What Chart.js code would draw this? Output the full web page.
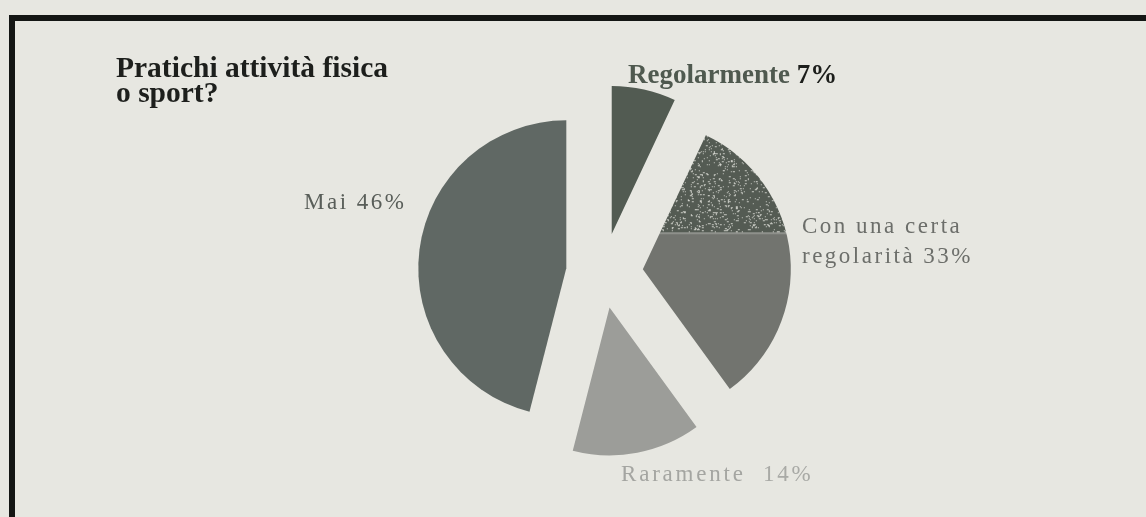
<!DOCTYPE html>
<html lang="it">
<head>
<meta charset="utf-8">
<title>Pratichi attività fisica o sport?</title>
<script src="https://cdn.jsdelivr.net/npm/chart.js@4.4.1/dist/chart.umd.min.js"></script>
<style>
  html, body { margin: 0; padding: 0; background: #e7e7e1; }
  #wrap { position: relative; width: 1146px; height: 517px; overflow: hidden; }
  #frame {
    position: absolute; left: 9px; top: 15px; width: 1160px; height: 496px;
    border-top: 6px solid #141614; border-left: 6px solid #141614;
    border-bottom: 1px solid #d8d8d2;
  }
  #chart { position: absolute; left: 0; top: 0; }
</style>
</head>
<body>
<div id="wrap">
  <div id="frame"></div>
  <canvas id="chart" width="1146" height="517"></canvas>
</div>
<script>
// dati
const titleLines = ['Pratichi attività fisica', 'o sport?'];
const categories = ['Regolarmente', 'Con una certa regolarità', 'Raramente', 'Mai'];
const categoryLines = [['Regolarmente'], ['Con una certa', 'regolarità'], ['Raramente '], ['Mai']];
const values = [7, 33, 14, 46];

// stile
const sliceColors = ['#525b52', null, '#9c9d99', '#606864'];
const sliceShift = [40, 40, 35, 37];   // px di "esplosione" lungo la bisettrice
const labelStyles = [
  { x: 628, y: 83, lh: 30, font: 'bold 27px "Liberation Serif"', spacing: '0px', name: '#4f594f', value: '#1c1e1b' },
  { x: 802, y: 233, lh: 30, font: '23px "Liberation Serif"', spacing: '2.5px', name: '#6c6e6a', value: '#6c6e6a' },
  { x: 621, y: 481, lh: 30, font: '23px "Liberation Serif"', spacing: '2.8px', name: '#a4a5a1', value: '#a9aaa6' },
  { x: 304, y: 209, lh: 30, font: '23px "Liberation Serif"', spacing: '2.5px', name: '#595e59', value: '#595e59' }
];

// trama della fetta "Con una certa regolarità": parte alta scura puntinata, parte bassa grigia
function makeConPattern(ctx) {
  const c = document.createElement('canvas');
  c.width = 1146; c.height = 517;
  const p = c.getContext('2d');
  p.fillStyle = '#72746f';
  p.fillRect(0, 0, c.width, c.height);
  p.fillStyle = '#545b53';
  p.fillRect(0, 0, c.width, 237);
  let seed = 12345;
  const next = () => (seed = (seed * 1103515245 + 12345) % 2147483648) / 2147483648;
  p.fillStyle = 'rgba(228,229,222,0.8)';
  for (let i = 0; i < 2600; i++) {
    const x = 600 + next() * 200;
    const y = 85 + next() * 152;
    p.fillRect(Math.round(x), Math.round(y), next() < 0.3 ? 2 : 1, 1);
  }
  p.fillStyle = '#8e908b';
  p.fillRect(0, 236, c.width, 2);
  return ctx.createPattern(c, 'no-repeat');
}

const ctx = document.getElementById('chart').getContext('2d');
const conPattern = makeConPattern(ctx);

// disegna ogni fetta spostata lungo la propria bisettrice, raggio invariato
const explodePlugin = {
  id: 'esplodi',
  beforeDatasetDraw(chart, args) {
    const c = chart.ctx;
    args.meta.data.forEach((arc, i) => {
      const mid = (arc.startAngle + arc.endAngle) / 2;
      c.save();
      c.translate(Math.cos(mid) * sliceShift[i], Math.sin(mid) * sliceShift[i]);
      arc.draw(c);
      c.restore();
    });
    return false;
  }
};

const textPlugin = {
  id: 'testi',
  afterDraw(chart) {
    const c = chart.ctx;
    c.save();
    c.textBaseline = 'alphabetic';
    c.textAlign = 'left';
    c.font = 'bold 29.5px "Liberation Serif"';
    c.fillStyle = '#1d1f1c';
    titleLines.forEach((t, i) => c.fillText(t, 116, 77 + i * 25));
    categoryLines.forEach((lines, i) => {
      const s = labelStyles[i];
      c.font = s.font;
      c.letterSpacing = s.spacing;
      lines.forEach((line, j) => {
        const y = s.y + j * s.lh;
        c.fillStyle = s.name;
        c.fillText(line, s.x, y);
        if (j === lines.length - 1) {
          const w = c.measureText(line + ' ').width;
          c.fillStyle = s.value;
          c.fillText(values[i] + '%', s.x + w, y);
        }
      });
    });
    c.restore();
  }
};

new Chart(ctx, {
  type: 'pie',
  data: {
    labels: categories,
    datasets: [{
      data: values,
      backgroundColor: sliceColors.map(col => col || conPattern),
      borderWidth: 0
    }]
  },
  options: {
    responsive: false,
    animation: false,
    radius: 148,
    layout: { padding: { left: 60, right: 0, top: 29, bottom: 0 } },
    plugins: { legend: { display: false }, tooltip: { enabled: false } }
  },
  plugins: [explodePlugin, textPlugin]
});
</script>
</body>
</html>
